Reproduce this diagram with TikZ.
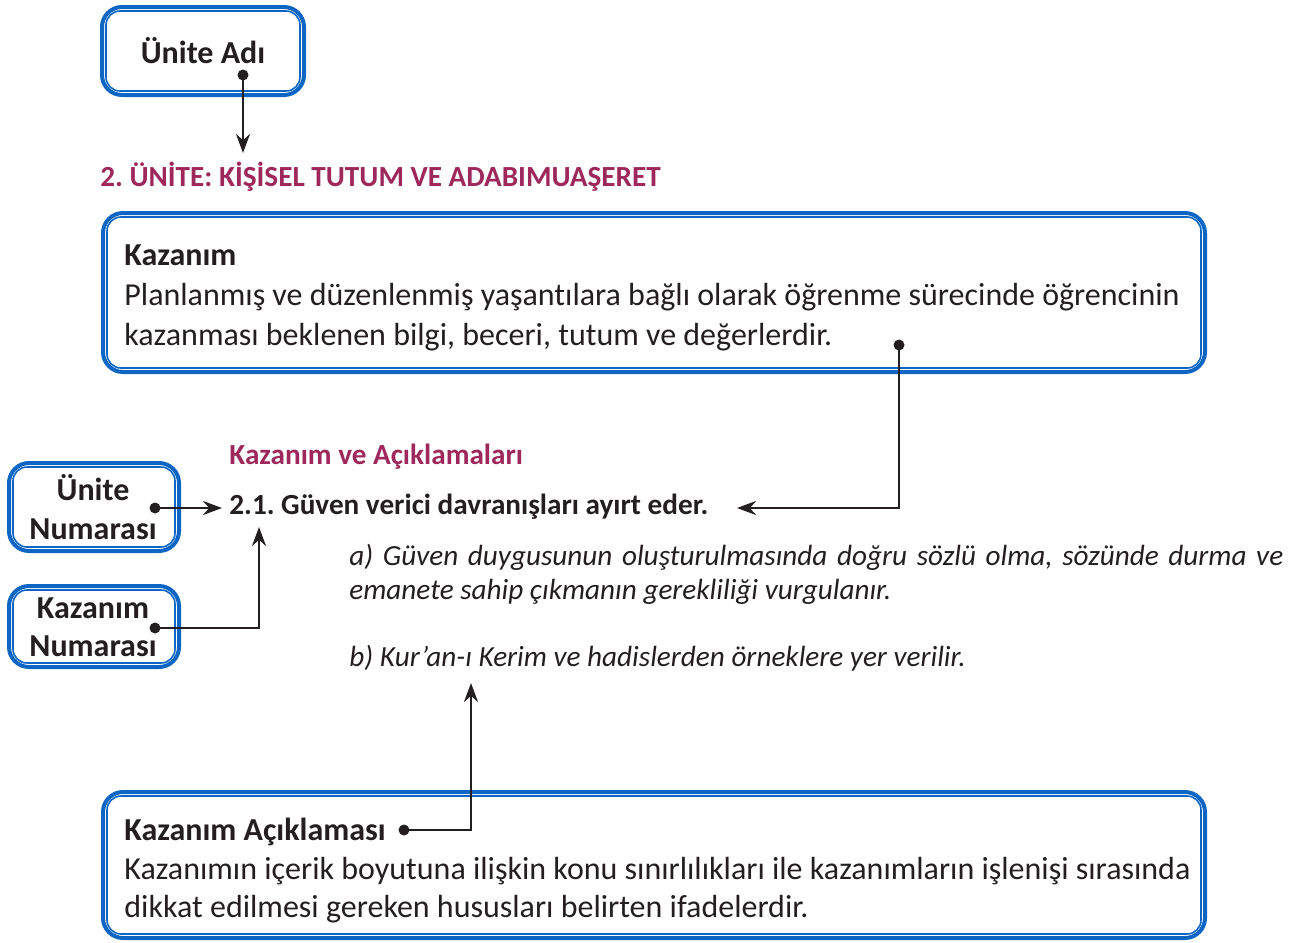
\documentclass[tikz,border=0pt]{standalone}
\usepackage{fontspec}
\setmainfont{Carlito}[Ligatures = NoCommon]
\usetikzlibrary{arrows.meta,calc}
\definecolor{kutuMavi}{RGB}{13,102,196}
\definecolor{baslikMor}{RGB}{158,40,92}
\definecolor{yazi}{RGB}{35,31,32}
\frenchspacing

\newcommand{\govde}{\fontsize{16}{20}\selectfont}
\newcommand{\egik}{\fontsize{14.6}{17}\selectfont\itshape}

\begin{document}
\begin{tikzpicture}[x=0.5pt, y=-0.5pt,
  kutu/.style = {draw = kutuMavi, line width = 2pt, rounded corners = 10pt, inner sep = 0pt},
  icCizgi/.style = {draw = kutuMavi, line width = 0.8pt, rounded corners = 7pt},
  yazi/.style = {inner sep = 0pt, anchor = base west, text = yazi, font = \govde},
  nokta/.style = {circle, fill = yazi, inner sep = 0pt, minimum size = 5.5pt},
  ok/.style = {draw = yazi, line width = 1.3pt, -{Stealth[length = 9.5pt, width = 7pt]}}]
\useasboundingbox (0,0) rectangle (1295,942);

% kutular
\node[kutu, minimum width = 101pt, minimum height = 44pt] (adi) at (203,51) {};
\node[kutu, minimum width = 551pt, minimum height = 79.5pt] (kaz) at (654,292.5) {};
\node[kutu, minimum width = 85pt, minimum height = 44pt] (uno) at (94,507) {};
\node[kutu, minimum width = 85pt, minimum height = 40.5pt] (kno) at (94,626.5) {};
\node[kutu, minimum width = 551pt, minimum height = 73pt] (aci) at (654,865) {};
\foreach \k in {adi,kaz,uno,kno,aci}
  \draw[icCizgi] ($(\k.south west)+(6,-6)$) rectangle ($(\k.north east)+(-6,6)$);

% kutu yazilari
\node[yazi, anchor = base, font = \govde\bfseries] (adiYazi) at (203,63) {Ünite Adı};
\node[yazi, font = \govde\bfseries] (kazBaslik) at (124,265) {Kazanım};
\node[yazi] (kazSatir1) at (124,305) {Planlanmış ve düzenlenmiş yaşantılara bağlı olarak öğrenme sürecinde öğrencinin};
\node[yazi] (kazSatir2) at (124,345) {kazanması beklenen bilgi, beceri, tutum ve değerlerdir.};
\node[yazi, anchor = base, font = \govde\bfseries] (unoSatir1) at (93,500) {Ünite};
\node[yazi, anchor = base, font = \govde\bfseries] (unoSatir2) at (93,539) {Numarası};
\node[yazi, anchor = base, font = \govde\bfseries] (knoSatir1) at (93,618) {Kazanım};
\node[yazi, anchor = base, font = \govde\bfseries] (knoSatir2) at (93,656) {Numarası};
\node[yazi, font = \govde\bfseries] (aciBaslik) at (124,840) {Kazanım Açıklaması};
\node[yazi] (aciSatir1) at (124,879) {Kazanımın içerik boyutuna ilişkin konu sınırlılıkları ile kazanımların işlenişi sırasında};
\node[yazi] (aciSatir2) at (124,917) {dikkat edilmesi gereken hususları belirten ifadelerdir.};

% ornek sayfa
\node[yazi, text = baslikMor, font = \fontsize{14.6}{16}\selectfont\bfseries] (unite) at (100,186) {2. ÜNİTE: KİŞİSEL TUTUM VE ADABIMUAŞERET};
\node[yazi, text = baslikMor, font = \fontsize{14.6}{16}\selectfont\bfseries] (kvA) at (229,464) {Kazanım ve Açıklamaları};
\node[yazi, font = \fontsize{14.6}{18}\selectfont\bfseries] (madde) at (229,514) {2.1. Güven verici davranışları ayırt eder.};
\node[yazi, font = \egik] (acA1) at (349,565) {\makebox[467pt][s]{a) Güven duygusunun oluşturulmasında doğru sözlü olma, sözünde durma ve}};
\node[yazi, font = \egik] (acA2) at (349,599) {emanete sahip çıkmanın gerekliliği vurgulanır.};
\node[yazi, font = \egik] (acB) at (349,666) {b) Kur’an-ı Kerim ve hadislerden örneklere yer verilir.};

% noktalar
\node[nokta] (adiNokta) at (243,75) {};
\node[nokta] (kazNokta) at (899,345) {};
\node[nokta] (unoNokta) at (155,508) {};
\node[nokta] (knoNokta) at (155,628) {};
\node[nokta] (aciNokta) at (404,830) {};

% oklar
\coordinate (adiUc) at (243,153);
\coordinate (kazUc) at (737,508);
\coordinate (unoUc) at (222,508);
\coordinate (knoUc) at (259,527);
\coordinate (aciUc) at (471,683);
\draw[ok] (adiNokta.center) -- (adiUc);
\draw[ok] (kazNokta.center) |- (kazUc);
\draw[ok] (unoNokta.center) -- (unoUc);
\draw[ok] (knoNokta.center) -| (knoUc);
\draw[ok] (aciNokta.center) -| (aciUc);
\end{tikzpicture}
\end{document}
